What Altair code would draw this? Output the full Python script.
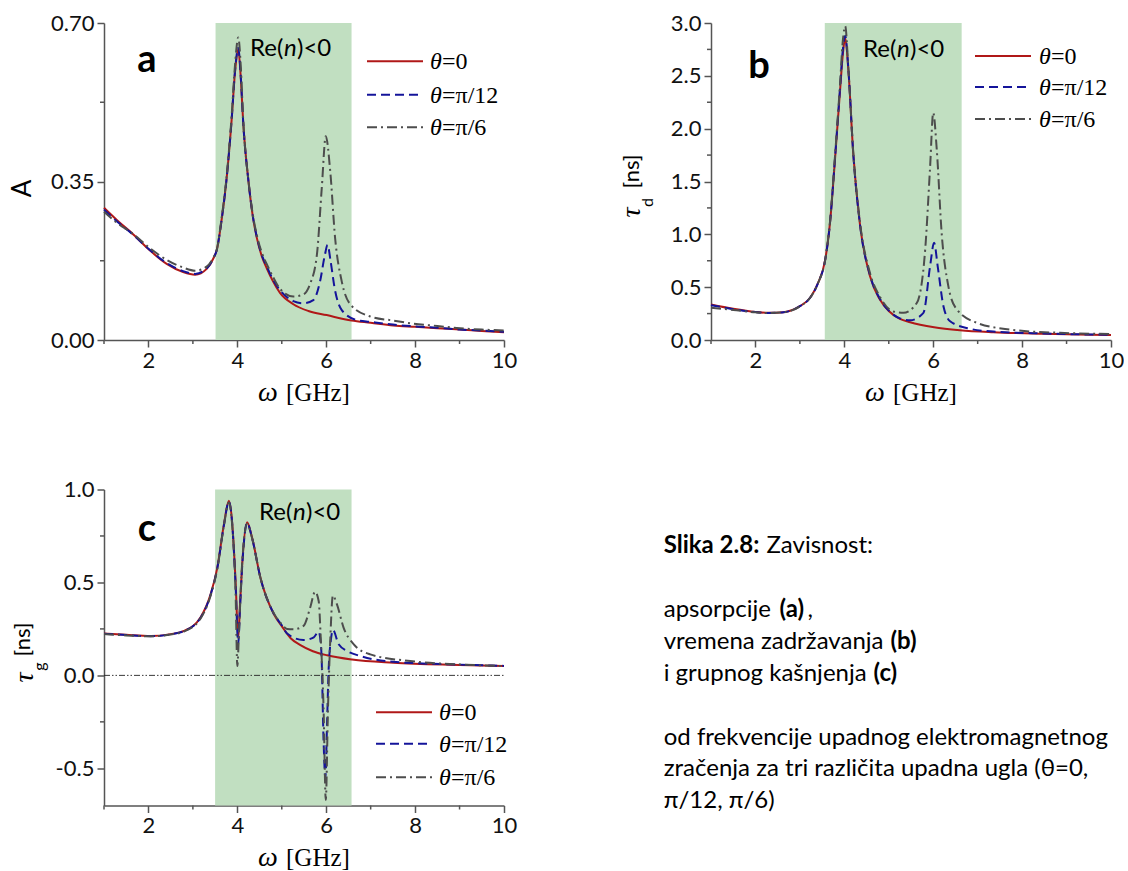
import altair as alt
import pandas as pd

RED = "#B01818"
BLUE = "#14149A"
GREY = "#4D4D4D"
GREEN = "#C1DFC1"
AXC = "#555555"
SANS = "Lato"
SERIF = "Liberation Serif"

W = 400
H_TOP = 317
H_BOT = 316

# ---------------- data: panel a (absorption A) ----------------
a_red_x = [1.0, 1.3, 1.66, 2.03, 2.41, 2.78, 3.05, 3.31, 3.46, 3.54, 3.65, 3.76, 3.87, 3.95, 4.02, 4.08, 4.13, 4.25, 4.35,
           4.44, 4.55, 4.66, 4.8, 4.96, 5.26, 5.6, 6.01, 6.57, 7.0, 7.51, 8.0, 8.5, 9.01, 9.5, 10.0]
a_red_y = [0.292, 0.264, 0.233, 0.198, 0.168, 0.150, 0.144, 0.157, 0.180, 0.200, 0.268, 0.358, 0.484, 0.594, 0.642, 0.575,
           0.484, 0.351, 0.272, 0.225, 0.185, 0.159, 0.130, 0.104, 0.079, 0.064, 0.055, 0.043, 0.038, 0.032, 0.029, 0.026,
           0.023, 0.020, 0.017]
a_blue_x = [1.0, 1.3, 1.66, 2.03, 2.41, 2.78, 3.05, 3.31, 3.46, 3.54, 3.65, 3.76, 3.87, 3.95, 4.02, 4.08, 4.13, 4.25, 4.35,
            4.44, 4.55, 4.66, 4.8, 4.96, 5.26, 5.49, 5.71, 5.86, 5.97, 6.03, 6.10, 6.19, 6.35, 6.69, 7.0, 7.5, 8.0, 8.5,
            9.0, 9.5, 10.0]
a_blue_y = [0.288, 0.261, 0.232, 0.199, 0.170, 0.152, 0.146, 0.158, 0.180, 0.200, 0.268, 0.358, 0.484, 0.596, 0.645, 0.578,
            0.484, 0.351, 0.273, 0.227, 0.188, 0.163, 0.134, 0.110, 0.086, 0.081, 0.088, 0.129, 0.188, 0.210, 0.173, 0.114,
            0.066, 0.044, 0.040, 0.034, 0.030, 0.027, 0.023, 0.021, 0.018]
a_grey_x = [1.0, 1.3, 1.66, 2.03, 2.41, 2.78, 3.05, 3.31, 3.46, 3.54, 3.65, 3.76, 3.87, 3.95, 4.02, 4.08, 4.13, 4.25, 4.35,
            4.44, 4.55, 4.66, 4.8, 4.96, 5.26, 5.49, 5.63, 5.79, 5.90, 5.99, 6.09, 6.20, 6.35, 6.54, 6.99, 7.5, 7.89, 8.5,
            9.01, 9.5, 10.0]
a_grey_y = [0.283, 0.258, 0.234, 0.203, 0.177, 0.160, 0.153, 0.162, 0.182, 0.200, 0.272, 0.362, 0.492, 0.610, 0.668, 0.600,
            0.490, 0.352, 0.276, 0.231, 0.193, 0.168, 0.140, 0.113, 0.096, 0.101, 0.122, 0.188, 0.336, 0.450, 0.373, 0.225,
            0.129, 0.079, 0.052, 0.043, 0.037, 0.031, 0.026, 0.023, 0.021]

# ---------------- data: panel b (dwell time tau_d) ----------------
b_red_x = [1.0, 1.5, 2.0, 2.3, 2.63, 3.0, 3.23, 3.41, 3.57, 3.68, 3.79, 3.9, 3.97, 4.02, 4.09, 4.2, 4.35, 4.58, 4.8, 5.0,
           5.25, 5.48, 6.02, 6.6, 7.35, 8.48, 9.53, 10.0]
b_red_y = [0.336, 0.295, 0.265, 0.257, 0.263, 0.32, 0.40, 0.54, 0.76, 1.12, 1.71, 2.34, 2.72, 2.86, 2.56, 1.77, 1.10, 0.60,
           0.383, 0.275, 0.200, 0.168, 0.121, 0.093, 0.074, 0.059, 0.049, 0.047]
b_blue_x = [1.0, 1.5, 2.0, 2.3, 2.63, 3.0, 3.23, 3.41, 3.57, 3.68, 3.79, 3.9, 3.97, 4.02, 4.09, 4.2, 4.35, 4.58, 4.8, 5.0,
            5.25, 5.48, 5.78, 5.93, 6.02, 6.1, 6.23, 6.38, 6.83, 7.35, 8.48, 9.53, 10.0]
b_blue_y = [0.330, 0.292, 0.264, 0.256, 0.263, 0.32, 0.40, 0.54, 0.76, 1.12, 1.72, 2.36, 2.76, 2.88, 2.57, 1.77, 1.10, 0.61,
            0.39, 0.278, 0.205, 0.187, 0.257, 0.70, 0.92, 0.70, 0.32, 0.178, 0.106, 0.080, 0.062, 0.052, 0.050]
b_grey_x = [1.0, 1.5, 2.0, 2.3, 2.63, 3.0, 3.23, 3.41, 3.57, 3.68, 3.79, 3.9, 3.97, 4.02, 4.09, 4.2, 4.35, 4.58, 4.8, 5.1,
            5.33, 5.63, 5.82, 5.93, 6.0, 6.08, 6.19, 6.34, 6.53, 6.98, 7.73, 8.85, 9.53, 10.0]
b_grey_y = [0.305, 0.285, 0.262, 0.255, 0.262, 0.318, 0.40, 0.54, 0.76, 1.13, 1.74, 2.40, 2.85, 2.97, 2.58, 1.78, 1.12, 0.63,
            0.41, 0.27, 0.257, 0.35, 0.86, 1.64, 2.15, 1.80, 1.01, 0.51, 0.29, 0.163, 0.099, 0.068, 0.060, 0.057]

# ---------------- data: panel c (group delay tau_g) ----------------
c_red_x = [1.0, 1.5, 2.05, 2.5, 2.8, 3.17, 3.4, 3.55, 3.7, 3.81, 3.88, 3.96, 4.02, 4.06, 4.11, 4.22, 4.33, 4.52, 4.82, 5.0,
           5.2, 5.42, 5.7, 6.02, 6.58, 7.51, 9.01, 10.0]
c_red_y = [0.225, 0.218, 0.212, 0.222, 0.239, 0.311, 0.437, 0.58, 0.815, 0.94, 0.833, 0.51, 0.20, 0.38, 0.60, 0.824, 0.743,
           0.525, 0.33, 0.265, 0.20, 0.163, 0.13, 0.108, 0.085, 0.068, 0.056, 0.050]
c_blue_x = [1.0, 1.5, 2.05, 2.5, 2.8, 3.17, 3.4, 3.55, 3.7, 3.81, 3.88, 3.96, 4.02, 4.06, 4.11, 4.22, 4.33, 4.52, 4.82, 5.0,
            5.12, 5.49, 5.72, 5.83, 5.89, 5.94, 5.98, 6.02, 6.05, 6.11, 6.15, 6.28, 6.47, 6.77, 7.5, 9.0, 10.0]
c_blue_y = [0.224, 0.217, 0.211, 0.221, 0.238, 0.309, 0.435, 0.578, 0.81, 0.935, 0.83, 0.49, 0.17, 0.36, 0.59, 0.82, 0.74,
            0.525, 0.332, 0.27, 0.225, 0.19, 0.205, 0.235, 0.13, -0.35, -0.55, -0.25, 0.005, 0.20, 0.245, 0.167, 0.131,
            0.104, 0.073, 0.058, 0.051]
c_grey_x = [1.0, 1.5, 2.05, 2.5, 2.8, 3.17, 3.4, 3.55, 3.7, 3.81, 3.88, 3.96, 4.0, 4.04, 4.1, 4.22, 4.33, 4.52, 4.82, 5.0,
            5.12, 5.27, 5.49, 5.64, 5.75, 5.83, 5.88, 5.94, 5.99, 6.04, 6.09, 6.15, 6.24, 6.39, 6.62, 6.99, 7.89, 9.01, 10.0]
c_grey_y = [0.222, 0.215, 0.210, 0.220, 0.236, 0.305, 0.43, 0.575, 0.81, 0.93, 0.82, 0.45, 0.05, 0.25, 0.57, 0.815, 0.74,
            0.525, 0.335, 0.275, 0.25, 0.248, 0.266, 0.365, 0.45, 0.40, 0.185, -0.175, -0.67, -0.175, 0.185, 0.43, 0.383,
            0.257, 0.167, 0.113, 0.077, 0.059, 0.050]

# shaded Re(n)<0 bands
band_a = [3.51, 6.57]
band_b = [3.56, 6.64]
band_c = [3.50, 6.57]

# ticks
x_major = [2, 4, 6, 8, 10]
x_minor = [1, 3, 5, 7, 9]
a_major = [0.0, 0.35, 0.70]
a_minor = [0.175, 0.525]
b_major = [0.0, 0.5, 1.0, 1.5, 2.0, 2.5, 3.0]
b_minor = [0.25, 0.75, 1.25, 1.75, 2.25, 2.75]
c_major = [-0.5, 0.0, 0.5, 1.0]
c_minor = [-0.25, 0.25, 0.75]
zero_line = [0.0]

legend_eq = ["=0", "=\u03c0/12", "=\u03c0/6"]
caption_lines = [
    ("Slika 2.8:", "Zavisnost:"),
    ("apsorpcije ", "(a)"),
    ("vremena zadr\u017eavanja ", "(b)"),
    ("i grupnog ka\u0161njenja ", "(c)"),
]
caption_tail = [
    "od frekvencije upadnog elektromagnetnog",
    "zra\u010denja za tri razli\u010dita upadna ugla (\u03b8=0,",
    "\u03c0/12, \u03c0/6)",
]

TICK_FS = 22
LEG_FS = 24
RE_FS = 24
CAP_FS = 24


def T(text, x, y, size, font=SANS, style=None, weight=None, align="left", baseline="alphabetic", angle=None,
      color="#000000"):
    kw = dict(text=text, align=align, baseline=baseline, font=font, fontSize=size, color=color)
    if style:
        kw["fontStyle"] = style
    if weight:
        kw["fontWeight"] = weight
    if angle is not None:
        kw["angle"] = angle
    return alt.Chart(pd.DataFrame({"k": [0]})).mark_text(**kw).encode(x=alt.value(x), y=alt.value(y))


STYLES = [(RED, None), (BLUE, [9, 5]), (GREY, [10, 4, 2, 4])]


def legend(x1, x2, xt, rows):
    out = []
    for (col, dash), row, lab in zip(STYLES, rows, legend_eq):
        kw = dict(color=col, strokeWidth=2)
        if dash:
            kw["strokeDash"] = dash
        out.append(alt.Chart(pd.DataFrame({"k": [0]})).mark_rule(**kw).encode(
            x=alt.value(x1), x2=alt.value(x2), y=alt.value(row)))
        out.append(T("\u03b8", xt, row + 8, LEG_FS, SERIF, style="italic"))
        out.append(T(lab, xt + 12, row + 8, LEG_FS, SERIF))
    return out


def re_label(x0, yb):
    return [T("Re(", x0, yb, RE_FS), T("n", x0 + 34, yb, RE_FS, style="italic"), T(")<0", x0 + 47, yb, RE_FS)]


def x_title(H):
    return [T("\u03c9", 154, H + 60.5, 28, SERIF, style="italic"), T("[GHz]", 182, H + 60.5, 25, SERIF)]


def panel(H, ydom, ymaj, ymin, yfmt, band, series, extra):
    xsc = alt.Scale(domain=[1, 10], nice=False, zero=False)
    ysc = alt.Scale(domain=ydom, nice=False, zero=False)
    common = dict(title=None, grid=False, domainColor=AXC, domainWidth=1.5, tickColor=AXC, tickWidth=1.5,
                  tickSize=7, labelFont=SANS, labelFontSize=TICK_FS, labelColor="#111111", labelPadding=3)
    xax = alt.Axis(values=x_major, format="d", labelFlush=False, **common)
    yax = alt.Axis(values=ymaj, format=yfmt, labelExpr="replace(datum.label, '\u2212', '-')", **common)
    layers = []
    layers.append(alt.Chart(pd.DataFrame({"b0": [band[0]], "b1": [band[1]]})).mark_rect(color=GREEN).encode(
        x=alt.X("b0:Q", scale=xsc, axis=xax), x2="b1:Q", y=alt.value(0), y2=alt.value(H)))
    layers.append(alt.Chart(pd.DataFrame({"v": x_minor})).mark_rule(color=AXC, strokeWidth=1.5).encode(
        x=alt.X("v:Q", scale=xsc, axis=xax), y=alt.value(H), y2=alt.value(H + 4)))
    layers.append(alt.Chart(pd.DataFrame({"v": ymin})).mark_rule(color=AXC, strokeWidth=1.5).encode(
        y=alt.Y("v:Q", scale=ysc, axis=yax), x=alt.value(0), x2=alt.value(-4)))
    for (xs, ys), (col, dash) in zip(series, STYLES):
        kw = dict(color=col, strokeWidth=2, interpolate="monotone")
        if dash:
            kw["strokeDash"] = dash
        layers.append(alt.Chart(pd.DataFrame({"x": xs, "y": ys})).mark_line(**kw).encode(
            x=alt.X("x:Q", scale=xsc, axis=xax), y=alt.Y("y:Q", scale=ysc, axis=yax)))
    extra_layers = [e(xsc, ysc, xax, yax) if callable(e) else e for e in extra]
    return alt.layer(*layers, *extra_layers).properties(width=W, height=H)


# ---- panel a
pa_extra = [
    # invisible anchor fixing the page offset of the whole figure
    alt.Chart(pd.DataFrame({"k": [0]})).mark_rule(opacity=0).encode(
        x=alt.value(-104), y=alt.value(-22.5), y2=alt.value(0)),
    T("a", 43, 48.5, 38, weight="bold", align="center"),
    *re_label(146, 32.5),
    *legend(263, 319, 326, [38.2, 71.8, 104.2]),
    T("A", -81.5, 165.5, 26, align="center", baseline="middle", angle=270),
    *x_title(H_TOP),
]
pa = panel(H_TOP, [0, 0.7], a_major, a_minor, ".2f", band_a,
           [(a_red_x, a_red_y), (a_blue_x, a_blue_y), (a_grey_x, a_grey_y)], pa_extra)

# ---- panel b
pb_extra = [
    T("b", 48, 54.5, 38, weight="bold", align="center"),
    *re_label(152, 33.5),
    *legend(264, 320, 328, [33, 64, 96]),
    T("\u03c4", -79.5, 189.5, 28, SERIF, style="italic", align="center", baseline="middle", angle=270),
    T("d", -63, 179.5, 16, align="center", baseline="middle", angle=270),
    T("[ns]", -79.5, 148.5, 22, align="center", baseline="middle", angle=270),
    *x_title(H_TOP),
]
pb = panel(H_TOP, [0, 3.0], b_major, b_minor, ".1f", band_b,
           [(b_red_x, b_red_y), (b_blue_x, b_blue_y), (b_grey_x, b_grey_y)], pb_extra)


# ---- panel c
def zero_rule(xsc, ysc, xax, yax):
    return alt.Chart(pd.DataFrame({"y": zero_line, "x0": [1], "x1": [10]})).mark_rule(
        color="#222222", strokeWidth=0.9, strokeDash=[6, 2, 1.5, 2, 1.5, 2]).encode(
        x=alt.X("x0:Q", scale=xsc, axis=xax), x2="x1:Q", y=alt.Y("y:Q", scale=ysc, axis=yax))


cap = []
cx = 559.7
cap.append(T(caption_lines[0][0], cx, 63.7, CAP_FS, weight="bold"))
cap.append(T(caption_lines[0][1], 662.5, 63.7, CAP_FS))
cap.append(T(caption_lines[1][0], cx, 127.7, CAP_FS))
cap.append(T(caption_lines[1][1], 675.5, 127.7, CAP_FS, weight="bold"))
cap.append(T(",", 703.5, 127.7, CAP_FS))
cap.append(T(caption_lines[2][0], cx, 159.3, CAP_FS))
cap.append(T(caption_lines[2][1], 786.5, 159.3, CAP_FS, weight="bold"))
cap.append(T(caption_lines[3][0], cx, 191, CAP_FS))
cap.append(T(caption_lines[3][1], 769.5, 191, CAP_FS, weight="bold"))
for i, line in enumerate(caption_tail):
    cap.append(T(line, cx, 255 + 31.7 * i, CAP_FS))

pc_extra = [
    zero_rule,
    T("c", 43, 51, 38, weight="bold", align="center"),
    *re_label(155, 30.3),
    *legend(272, 328, 335, [222.7, 254.3, 287.7]),
    T("\u03c4", -79.5, 188, 28, SERIF, style="italic", align="center", baseline="middle", angle=270),
    T("g", -64, 177, 16, align="center", baseline="middle", angle=270),
    T("[ns]", -81, 150, 22, align="center", baseline="middle", angle=270),
    *x_title(H_BOT),
    *cap,
]
pc = panel(H_BOT, [-0.7, 1.0], c_major, c_minor, ".1f", band_c,
           [(c_red_x, c_red_y), (c_blue_x, c_blue_y), (c_grey_x, c_grey_y)], pc_extra)

chart = alt.concat(pa, pb, pc, columns=2, spacing={"row": 149.5, "column": 207}, bounds="flush").properties(
    padding=0).configure_view(strokeWidth=0)

chart.save("out.html", embed_options={"renderer": "svg", "actions": False})
